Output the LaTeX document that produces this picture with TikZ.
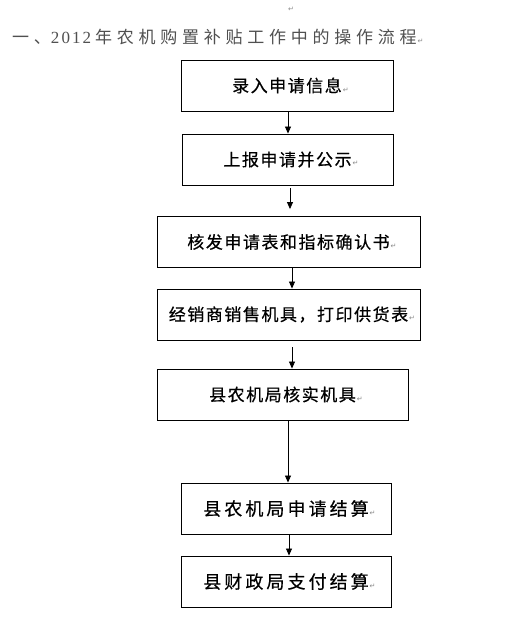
\documentclass[tikz,border=0pt]{standalone}
\usepackage{fontspec}
\usetikzlibrary{arrows.meta}
\newfontfamily\cjkt[LetterSpace=28]{Noto Sans CJK SC}
\newfontfamily\cjka[LetterSpace=9,FakeBold=0.5]{Noto Sans CJK SC}
\newfontfamily\cjkb[LetterSpace=17,FakeBold=0.5]{Noto Sans CJK SC}
\newfontfamily\digt[LetterSpace=12]{Liberation Serif}
\newfontfamily\markfont{DejaVu Sans}
\definecolor{titlegray}{HTML}{505050}
\definecolor{markgray}{HTML}{8A8A8A}
\newcommand\pmark{\rlap{\kern1pt\markfont\fontsize{7}{8}\selectfont\color{markgray}↵}}
\begin{document}
\begin{tikzpicture}[x=1pt,y=-1pt,
  box/.style={draw=black,line width=0.9pt,minimum height=51pt,inner sep=0pt,fill=white},
  boxa/.style={box,font=\cjka\fontsize{17}{20}\selectfont},
  boxb/.style={box,font=\cjkb\fontsize{18}{21}\selectfont},
  arr/.style={line width=0.8pt,-{Triangle[width=6pt,length=7pt]}}]
\useasboundingbox (0,0) rectangle (504,631);
\fill[white] (0,0) rectangle (504,631);
% top paragraph mark
\node[inner sep=0pt,font=\markfont\fontsize{7}{8}\selectfont,text=markgray] (topmark) at (291,9) {↵};
% title
\node[anchor=west,inner sep=0pt,text=titlegray,font=\cjkt\fontsize{17}{20}\selectfont] (title) at (12,37)
  {一、{\digt\fontsize{17}{20}\selectfont 2012}\hspace{4pt}年农机购置补贴工作中的操作流程\pmark};
% boxes
\node[boxa,minimum width=212pt] (b1) at (287,85.5) {录入申请信息\pmark};
\node[boxa,minimum width=211pt] (b2) at (287.5,159.5) {上报申请并公示\pmark};
\node[boxa,minimum width=263pt] (b3) at (288.5,242) {核发申请表和指标确认书\pmark};
\node[boxa,minimum width=263pt] (b4) at (288.5,314.5) {经销商销售机具，打印供货表\pmark};
\node[boxa,minimum width=251pt] (b5) at (282.5,394.5) {县农机局核实机具\pmark};
\node[boxb,minimum width=210pt] (b6) at (286,508.5) {县农机局申请结算\pmark};
\node[boxb,minimum width=210pt] (b7) at (286,581.5) {县财政局支付结算\pmark};
% arrow x positions
\coordinate (x1) at (288,0);
\coordinate (x2) at (290,0);
\coordinate (x3) at (292,0);
\coordinate (x4) at (292,0);
\coordinate (x5) at (288,0);
\coordinate (x6) at (289,0);
\draw[arr] (b1.south -| x1) -- (b2.north -| x1);
\draw[arr,shorten <=3pt,shorten >=7pt] (b2.south -| x2) -- (b3.north -| x2);
\draw[arr] (b3.south -| x3) -- (b4.north -| x3);
\draw[arr,shorten <=7pt] (b4.south -| x4) -- (b5.north -| x4);
\draw[arr] (b5.south -| x5) -- (b6.north -| x5);
\draw[arr] (b6.south -| x6) -- (b7.north -| x6);
\end{tikzpicture}
\end{document}
